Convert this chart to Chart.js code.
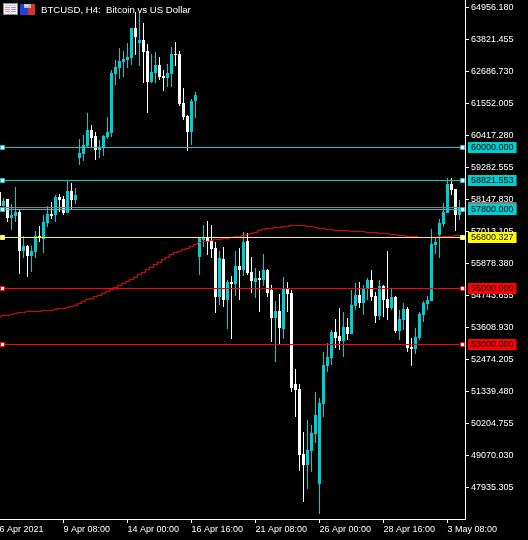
<!DOCTYPE html>
<html>
<head>
<meta charset="utf-8">
<title>BTCUSD, H4</title>
<script src="https://cdn.jsdelivr.net/npm/chart.js@4/dist/chart.umd.js"></script>
<style>
  html, body { margin: 0; padding: 0; background: #000; }
  canvas { display: block; }
</style>
</head>
<body>
<canvas id="chart" width="528" height="540"></canvas>
<script>
const title = "BTCUSD, H4:  Bitcoin vs US Dollar";

const opens = [
  58414, 57917, 58166, 57492, 57563, 57705, 56322, 56499, 56144, 56286, 56854, 56747, 57315, 57634, 57598, 58237,
  58166, 57669, 58449, 58130, 59619, 59761, 60045, 60612, 60399, 59903, 60009, 60364, 60506, 62598, 62811, 63023,
  63094, 63165, 64229, 63697, 63804, 63414, 62314, 62633, 62917, 62527, 62456, 62598, 63307, 63307, 61570, 61109,
  60541, 61641, 56108, 56711, 56782, 56676, 56428, 54690, 56037, 54584, 55222, 55151, 55789, 55647, 56676, 55576,
  55222, 55364, 55293, 55647, 54938, 53945, 54194, 53555, 54974, 54832, 51605, 51428, 49123, 48733, 49230, 49832,
  48059, 50896, 52244, 52528, 53449, 53308, 53130, 53627, 53379, 54371, 54761, 54478, 54974, 55293, 54726, 54017,
  55081, 54620, 54301, 54691, 53485, 53875, 54265, 52918, 52847, 53237, 54052, 54442, 54549, 56534, 56889, 57279,
  57669, 58698, 58520, 57598
];
const highs = [
  58414, 58201, 58166, 57988, 58591, 57776, 56854, 56534, 56499, 57031, 57208, 57598, 57917, 58059, 58307, 58343,
  58272, 58804, 58733, 58556, 60293, 60435, 61215, 60789, 60541, 60258, 60435, 61073, 62740, 63094, 63520, 63414,
  63697, 64229, 64796, 64796, 64406, 63662, 63307, 63378, 63201, 62740, 62953, 63555, 63733, 63414, 62102, 61144,
  61711, 61960, 56782, 57243, 57385, 57243, 56640, 56321, 56463, 55293, 55435, 56321, 56428, 56995, 56959, 56108,
  55718, 55612, 56215, 55683, 55115, 54548, 54796, 55399, 55222, 54938, 52137, 51605, 49903, 50329, 50152, 51322,
  51109, 52740, 53059, 53520, 53910, 54301, 54159, 53946, 54939, 55187, 55222, 55116, 55364, 55648, 54868, 55293,
  55116, 56322, 55010, 54726, 54230, 54478, 54336, 53237, 53591, 54159, 54549, 54726, 57102, 56783, 57456, 58024,
  58910, 58910, 58520, 58130
];
const lows = [
  57870, 57870, 57350, 57066, 57350, 55506, 56074, 55400, 55577, 56074, 56641, 56251, 57173, 57456, 57350, 57705,
  57598, 57669, 57811, 57988, 59371, 59513, 60009, 60009, 59548, 59619, 59690, 60293, 60364, 62208, 62421, 62492,
  62811, 62917, 63272, 62882, 62279, 61215, 62279, 62279, 62385, 61995, 62137, 62137, 62882, 61463, 60967, 59868,
  60080, 61038, 55470, 56463, 56179, 56073, 54123, 54406, 54335, 53555, 53201, 54725, 54584, 55435, 55470, 54832,
  54655, 54158, 55080, 54690, 53094, 52385, 53023, 53201, 54158, 51322, 50435, 48520, 47421, 47882, 48485, 49513,
  46996, 50435, 52031, 52279, 52882, 52811, 52563, 53166, 53379, 54230, 54301, 54052, 54584, 54549, 53769, 53875,
  53981, 53875, 54230, 53414, 53166, 53520, 52740, 52244, 52669, 53166, 53804, 54230, 54549, 56215, 56074, 57173,
  57669, 58307, 57031, 57421
];
const closes = [
  57917, 58095, 57492, 57598, 57705, 56322, 56499, 56144, 56322, 56854, 56783, 57350, 57634, 57563, 58237, 58130,
  57669, 58449, 58130, 58307, 59797, 60080, 60612, 60329, 59903, 60009, 60399, 60541, 62633, 62846, 63059, 63130,
  63201, 64229, 63910, 63804, 63378, 62314, 62669, 62917, 62492, 62456, 62633, 63307, 63272, 61534, 61073, 60541,
  61641, 61853, 56782, 56782, 56676, 56392, 54690, 56073, 54584, 55222, 55151, 55789, 55647, 56640, 55541, 55257,
  55364, 55293, 55647, 54832, 53945, 54194, 53591, 54974, 54796, 51463, 51393, 49088, 48733, 49265, 49868, 50506,
  50932, 52279, 52563, 53449, 53237, 53130, 53627, 53379, 54407, 54761, 54478, 54974, 55293, 54691, 54017, 55081,
  54584, 54301, 54691, 53485, 53910, 54265, 52882, 52847, 53272, 54088, 54478, 54584, 56570, 56641, 57315, 57705,
  58698, 58485, 57598, 57882
];

// moving average, one value per candle
const maValues = [
  53998, 54033, 54033, 54069, 54104, 54140, 54140, 54175, 54175, 54175, 54175, 54211, 54211, 54211, 54246, 54282,
  54282, 54317, 54353, 54388, 54459, 54530, 54601, 54637, 54708, 54743, 54814, 54885, 54956, 55027, 55098, 55169,
  55240, 55310, 55381, 55488, 55559, 55665, 55736, 55842, 55913, 56020, 56091, 56197, 56268, 56304, 56375, 56410,
  56481, 56552, 56623, 56658, 56658, 56694, 56729, 56729, 56765, 56765, 56800, 56836, 56836, 56871, 56907, 56942,
  56978, 57049, 57084, 57119, 57119, 57155, 57155, 57190, 57190, 57226, 57226, 57226, 57226, 57190, 57190, 57155,
  57119, 57119, 57084, 57084, 57049, 57049, 57049, 57049, 57013, 57013, 57013, 57013, 56978, 56978, 56978, 56942,
  56942, 56942, 56907, 56907, 56871, 56871, 56836, 56836, 56836, 56800, 56800, 56800, 56800, 56800, 56836, 56836,
  56836, 56836, 56871, 56871
];

const priceTicks = [
  64956.18, 63821.455, 62686.73, 61552.005, 60417.28, 59282.555, 58147.83, 57013.105,
  55878.38, 54743.655, 53608.93, 52474.205, 51339.48, 50204.755, 49070.03, 47935.305
];
const timeTickIndex = [0, 16, 32, 48, 64, 80, 96, 112];
const timeTickLabels = [
  "6 Apr 2021", "9 Apr 08:00", "14 Apr 00:00", "16 Apr 16:00",
  "21 Apr 08:00", "26 Apr 00:00", "28 Apr 16:00", "3 May 08:00"
];

const levelPrices = [57864, 60000, 58821.553, 57800, 56800.327, 55000, 53000];
const levelColors = ["#808080", "#00CED1", "#00CED1", "#00CED1", "#FFFF00", "#FF0000", "#FF0000"];
const levelHandles = [false, true, true, true, true, true, true];

const up = "#00CED1";
const down = "#FFFFFF";
const font = { family: "'Liberation Sans', sans-serif", size: 9, lineHeight: "11px" };

const xMin = 0.125, xMax = 116.375;
const handleLeft = 0.75, handleRight = 115.75;
const yMin = 46818.2, yMax = 65222.13;

const candleColors = opens.map((o, i) => (closes[i] >= o ? up : down));

// levels sit after the regular price ticks, so their boxes paint over them
const isLevel = (i) => i >= priceTicks.length;
const levelOf = (i) => i - priceTicks.length;

const levelDatasets = levelPrices.map((price, n) => ({
  type: "line",
  order: 1,
  data: [
    { x: xMin, y: price },
    { x: handleLeft, y: price },
    { x: handleRight, y: price },
    { x: xMax, y: price }
  ],
  borderColor: levelColors[n],
  borderWidth: 1,
  pointStyle: "rect",
  pointRadius: (c) => (levelHandles[n] && (c.dataIndex === 1 || c.dataIndex === 2) ? 2.83 : 0),
  pointBackgroundColor: "#fff",
  pointBorderColor: levelColors[n],
  pointBorderWidth: 1
}));

// MT5 draws everything without antialiasing, so snap marks to whole pixels
const snapPixels = {
  id: "snapPixels",
  afterLayout(chart) {
    const y = chart.scales.y;
    y.ticks.forEach((t) => {
      t.value = y.getValueForPixel(Math.floor(y.getPixelForValue(t.value)) + 0.5);
    });
  },
  afterDatasetsUpdate(chart) {
    chart.data.datasets.forEach((ds, i) => {
      chart.getDatasetMeta(i).data.forEach((el) => {
        if (ds.type === "line") {
          el.y = Math.floor(el.y) + 0.5;
        } else {
          el.y = Math.round(el.y);
          el.base = Math.round(el.base);
        }
      });
    });
  }
};

const header = {
  id: "header",
  afterDraw(chart) {
    const ctx = chart.ctx;
    ctx.save();
    const box = (c, x, y, w, h) => { ctx.fillStyle = c; ctx.fillRect(x, y, w, h); };
    // table icon
    box("#8a8a8a", 3, 3, 15, 12);
    box("#f4f4f4", 4, 4, 13, 10);
    box("#c9c9e8", 5, 5, 11, 1);
    [7, 9, 11].forEach((y) => {
      box("#f08a80", 5, y, 5, 1);
      box("#8a9af0", 11, y, 5, 1);
    });
    // disk icon
    box("#2a3ce0", 20, 4, 8, 11);
    box("#d8322a", 28, 4, 7, 11);
    box("#b8b8b8", 24, 4, 7, 4);
    box("#ffffff", 25, 5, 3, 1);
    ctx.font = "9.6px 'Liberation Sans', sans-serif";
    ctx.fillStyle = "#fff";
    ctx.textBaseline = "alphabetic";
    ctx.fillText(title, 41, 13);
    ctx.restore();
  }
};

new Chart(document.getElementById("chart"), {
  type: "bar",
  plugins: [snapPixels, header],
  data: {
    datasets: [
      {
        order: 4,
        data: lows.map((l, i) => ({ x: i, y: [l, highs[i]] })),
        backgroundColor: candleColors,
        barThickness: 1,
        grouped: false,
        inflateAmount: 0
      },
      {
        order: 3,
        data: opens.map((o, i) => ({ x: i, y: [o, closes[i]] })),
        backgroundColor: candleColors,
        barThickness: 3,
        grouped: false,
        inflateAmount: 0
      },
      {
        type: "line",
        order: 2,
        data: maValues.map((v, i) => ({ x: i, y: v })),
        borderColor: "#FF0000",
        borderWidth: 1,
        stepped: "middle",
        pointRadius: 0
      },
      ...levelDatasets
    ]
  },
  options: {
    responsive: false,
    animation: false,
    layout: { padding: 0 },
    plugins: { legend: { display: false }, tooltip: { enabled: false } },
    scales: {
      x: {
        type: "linear",
        offset: false,
        min: xMin,
        max: xMax,
        afterBuildTicks: (s) => { s.ticks = timeTickIndex.map((v) => ({ value: v })); },
        afterFit: (s) => { s.height = 21; s.paddingLeft = 0; s.paddingRight = 0; },
        border: { color: "#fff", width: 1 },
        grid: {
          drawOnChartArea: false,
          offset: false,
          tickLength: 4,
          tickColor: (c) => (c.index === 0 ? "transparent" : "#fff")
        },
        ticks: {
          autoSkip: false,
          minRotation: 0,
          maxRotation: 0,
          align: "start",
          padding: 1,
          color: "#fff",
          font,
          callback: (v, i) => timeTickLabels[i]
        }
      },
      y: {
        position: "right",
        min: yMin,
        max: yMax,
        afterBuildTicks: (s) => { s.ticks = priceTicks.concat(levelPrices).map((v) => ({ value: v })); },
        afterFit: (s) => { s.width = 63; s.paddingTop = 0; s.paddingBottom = 0; },
        border: { color: "#fff", width: 1 },
        grid: {
          drawOnChartArea: false,
          tickLength: 4,
          tickColor: (c) => (isLevel(c.index) ? "transparent" : "#fff")
        },
        ticks: {
          autoSkip: false,
          padding: 2,
          font,
          color: (c) => (isLevel(c.index) ? "#000" : "#fff"),
          showLabelBackdrop: (c) => isLevel(c.index),
          backdropColor: (c) => (isLevel(c.index) ? levelColors[levelOf(c.index)] : "transparent"),
          backdropPadding: { left: 3, right: 3, top: 0, bottom: 0 },
          callback: (v) => v.toFixed(3)
        }
      }
    }
  }
});
</script>
</body>
</html>
